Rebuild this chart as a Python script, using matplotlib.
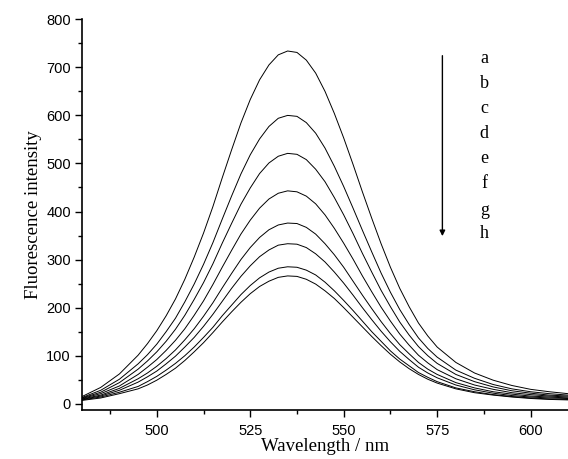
import matplotlib
matplotlib.use("Agg")
import matplotlib.pyplot as plt
from matplotlib.ticker import MultipleLocator

# wavelength grid (nm)
wavelength = [480, 485, 490, 495, 497.5, 500, 502.5, 505, 507.5, 510, 512.5, 515,
              517.5, 520, 522.5, 525, 527.5, 530, 532.5, 535, 537.5, 540, 542.5,
              545, 547.5, 550, 552.5, 555, 557.5, 560, 562.5, 565, 567.5, 570,
              572.5, 575, 580, 585, 590, 595, 600, 605, 610]

# fluorescence intensity, curves a -> h
curve_a = [15, 34, 62, 101, 125, 152, 183, 218, 259, 305, 355, 410,
           470, 528, 584, 633, 674, 705, 726, 734, 731, 715, 688,
           650, 604, 553, 498, 441, 386, 333, 284, 240, 202, 168,
           141, 118, 86, 64, 49, 38, 30, 25, 21]
curve_b = [13, 28, 51, 83, 102, 124, 150, 178, 212, 249, 290, 335,
           384, 432, 478, 518, 551, 577, 594, 600, 598, 585, 563,
           532, 494, 452, 407, 361, 316, 272, 232, 196, 165, 137,
           115, 97, 70, 53, 40, 31, 25, 21, 18]
curve_c = [12, 24, 44, 72, 89, 108, 130, 155, 184, 217, 252, 291,
           334, 375, 415, 449, 479, 501, 515, 521, 519, 508, 488,
           462, 429, 393, 354, 313, 274, 236, 202, 170, 143, 119,
           100, 84, 61, 46, 35, 27, 22, 18, 16]
curve_d = [11, 21, 37, 61, 76, 92, 111, 132, 156, 184, 214, 248,
           284, 319, 353, 382, 407, 426, 438, 443, 441, 432, 416,
           393, 365, 334, 301, 266, 233, 201, 172, 145, 122, 101,
           85, 71, 52, 39, 30, 23, 19, 16, 14]
curve_e = [10, 18, 32, 52, 64, 78, 94, 112, 133, 156, 182, 210,
           241, 271, 300, 325, 346, 362, 372, 376, 375, 367, 353,
           333, 310, 284, 255, 226, 198, 171, 146, 123, 104, 86,
           72, 61, 44, 33, 25, 20, 16, 14, 12]
curve_f = [9, 16, 28, 45, 56, 68, 83, 99, 118, 138, 161, 186,
           213, 240, 265, 287, 306, 320, 330, 333, 332, 325, 312,
           295, 274, 251, 226, 200, 175, 151, 129, 109, 92, 76,
           64, 54, 39, 29, 22, 17, 14, 12, 11]
curve_g = [8, 14, 24, 36, 46, 57, 70, 84, 100, 118, 138, 159,
           183, 205, 227, 246, 262, 274, 282, 285, 284, 278, 268,
           253, 235, 215, 194, 172, 150, 130, 110, 93, 79, 65,
           55, 46, 33, 25, 19, 15, 12, 10, 9]
curve_h = [7, 12, 21, 31, 39, 49, 61, 74, 90, 108, 127, 148,
           170, 191, 211, 229, 244, 255, 263, 266, 265, 259, 249,
           235, 219, 200, 180, 160, 140, 121, 103, 87, 73, 61,
           51, 43, 31, 23, 18, 14, 11, 9, 8]

curves = [curve_a, curve_b, curve_c, curve_d, curve_e, curve_f, curve_g, curve_h]
letters = list("abcdefgh")

fig = plt.figure(figsize=(5.68, 4.59), dpi=100)
ax = fig.add_axes([0.1444, 0.1057, 0.8556, 0.8523])

for ys in curves:
    ax.plot(wavelength, ys, color="black", lw=0.7)

ax.set_xlim(480, 610)
ax.set_ylim(-14, 800)

ax.spines["top"].set_visible(False)
ax.spines["right"].set_visible(False)
ax.spines["left"].set_linewidth(1.2)
ax.spines["bottom"].set_linewidth(1.2)

ax.xaxis.set_major_locator(MultipleLocator(25))
ax.xaxis.set_minor_locator(MultipleLocator(12.5))
ax.yaxis.set_major_locator(MultipleLocator(100))
ax.yaxis.set_minor_locator(MultipleLocator(50))
ax.tick_params(which="major", direction="out", length=5, width=1.0,
               labelsize=10.5, pad=3)
ax.tick_params(which="minor", direction="out", length=3, width=1.0)
ax.tick_params(axis="x", pad=5)
for lab in ax.get_xticklabels() + ax.get_yticklabels():
    lab.set_family("Liberation Sans")

ax.set_xlabel("Wavelength / nm", family="Liberation Serif", fontsize=13.5, labelpad=0)
ax.set_ylabel("Fluorescence intensity", family="Liberation Serif", fontsize=13.5, labelpad=3)

# arrow showing decreasing intensity
ax.annotate("", xy=(576.4, 343), xytext=(576.4, 730),
            arrowprops=dict(arrowstyle="-|>", color="black", lw=1.0,
                            mutation_scale=8))

letter_y = [719, 667, 614, 562, 510, 458, 403, 355]
for lt, yy in zip(letters, letter_y):
    ax.text(587.6, yy, lt, family="Liberation Serif", fontsize=13,
            ha="center", va="center")

fig.savefig("out.png", dpi=100)
